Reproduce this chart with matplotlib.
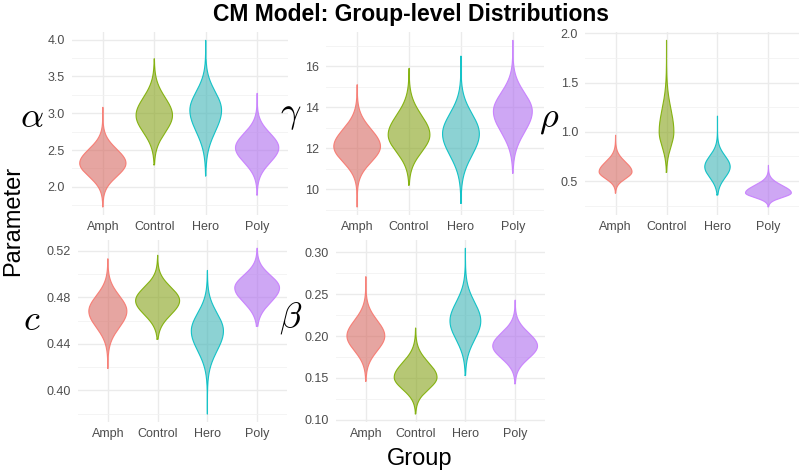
import numpy as np
import matplotlib
matplotlib.use("Agg")
import matplotlib.pyplot as plt
from matplotlib import ticker

plt.rcParams['font.family'] = ['Liberation Sans', 'DejaVu Sans']
plt.rcParams['mathtext.fontset'] = 'cm'

groups = ["Amph", "Control", "Hero", "Poly"]
colors = ["#F8766D", "#7CAE00", "#00BFC4", "#C77CFF"]
fill_colors = ["#D66A62", "#86A31A", "#3FB4B6", "#AE6DEE"]

# per-violin summaries: mode, lower spread, upper spread, min, max
alpha_mode = [2.32, 2.97, 3.04, 2.53]
alpha_sdlo = [0.18, 0.23, 0.29, 0.20]
alpha_sdhi = [0.19, 0.24, 0.25, 0.195]
alpha_min = [1.73, 2.30, 2.15, 1.89]
alpha_max = [3.08, 3.74, 3.99, 3.27]

gamma_mode = [12.08, 12.65, 12.7, 13.8]
gamma_sdlo = [0.76, 0.84, 1.05, 1.02]
gamma_sdhi = [0.84, 0.95, 0.98, 0.90]
gamma_min = [9.14, 10.2, 9.3, 10.78]
gamma_max = [15.1, 15.9, 16.5, 17.27]

rho_mode = [0.594, 1.0, 0.645, 0.38]
rho_sdlo = [0.07, 0.15, 0.11, 0.047]
rho_sdhi = [0.10, 0.23, 0.11, 0.075]
rho_min = [0.38, 0.59, 0.36, 0.24]
rho_max = [0.966, 1.93, 1.16, 0.66]

c_mode = [0.468, 0.477, 0.451, 0.488]
c_sdlo = [0.014, 0.012, 0.017, 0.0125]
c_sdhi = [0.0133, 0.0116, 0.0153, 0.0107]
c_min = [0.419, 0.444, 0.380, 0.455]
c_max = [0.513, 0.516, 0.503, 0.522]

beta_mode = [0.200, 0.1505, 0.218, 0.188]
beta_sdlo = [0.0177, 0.0144, 0.0223, 0.0149]
beta_sdhi = [0.0186, 0.0177, 0.0223, 0.0158]
beta_min = [0.146, 0.107, 0.153, 0.143]
beta_max = [0.271, 0.2095, 0.305, 0.243]

W, H = 800, 474
fig = plt.figure(figsize=(W / 100, H / 100), dpi=100)
fig.patch.set_facecolor("white")


def ax_at(l, r, t, b):
    return fig.add_axes([l / W, 1 - b / H, (r - l) / W, (b - t) / H])


def draw_panel(ax, mode, sdlo, sdhi, vmin, vmax, major, minor, fmt, label, label_xy):
    dens = []
    ys = []
    for i in range(4):
        y = np.linspace(vmin[i], vmax[i], 400)
        s = np.where(y < mode[i], sdlo[i], sdhi[i])
        d = np.exp(-0.5 * ((y - mode[i]) / s) ** 2)
        d = d / (np.sqrt(np.pi / 2) * (sdlo[i] + sdhi[i]))
        dens.append(d)
        ys.append(y)
    dmax = max(d.max() for d in dens)
    for i in range(4):
        hw = 0.45 * dens[i] / dmax
        x = i + 1
        ax.fill_betweenx(ys[i], x - hw, x + hw, facecolor=fill_colors[i], alpha=0.6,
                         edgecolor="none", zorder=3)
        ax.plot(np.concatenate([x - hw, (x + hw)[::-1], [x - hw[0]]]),
                np.concatenate([ys[i], ys[i][::-1], [ys[i][0]]]),
                color=colors[i], lw=0.8, alpha=0.9, zorder=4)
    lo, hi = min(vmin), max(vmax)
    r = hi - lo
    ax.set_ylim(lo - 0.05 * r, hi + 0.05 * r)
    ax.set_xlim(0.4, 4.6)
    ax.set_xticks(range(1, 5))
    ax.set_xticklabels(groups)
    ax.set_yticks(major)
    ax.set_yticks(minor, minor=True)
    ax.yaxis.set_major_formatter(ticker.FormatStrFormatter(fmt))
    ax.grid(True, which="major", color="#EBEBEB", lw=1.0, zorder=0)
    ax.grid(True, which="minor", axis="y", color="#F2F2F2", lw=0.6, zorder=0)
    ax.set_axisbelow(True)
    for sp in ax.spines.values():
        sp.set_visible(False)
    ax.tick_params(axis="both", which="both", length=0, colors="#4D4D4D", labelsize=9)
    ax.tick_params(axis="x", pad=4)
    ax.tick_params(axis="y", pad=5)
    for t in ax.get_xticklabels() + ax.get_yticklabels():
        t.set_color("#4D4D4D")
    fig.text(label_xy[0] / W, 1 - label_xy[1] / H, label, fontsize=26,
             ha="center", va="center", color="black")


ax1 = ax_at(72, 288, 32, 215)
draw_panel(ax1, alpha_mode, alpha_sdlo, alpha_sdhi, alpha_min, alpha_max,
           [2.0, 2.5, 3.0, 3.5, 4.0], [1.75, 2.25, 2.75, 3.25, 3.75], "%.1f",
           r"$\alpha$", (32, 118))

ax2 = ax_at(326, 544, 32, 215)
draw_panel(ax2, gamma_mode, gamma_sdlo, gamma_sdhi, gamma_min, gamma_max,
           [10, 12, 14, 16], [9, 11, 13, 15, 17], "%d",
           r"$\gamma$", (291, 114))

ax3 = ax_at(585, 799, 32, 215)
draw_panel(ax3, rho_mode, rho_sdlo, rho_sdhi, rho_min, rho_max,
           [0.5, 1.0, 1.5, 2.0], [0.25, 0.75, 1.25, 1.75], "%.1f",
           r"$\rho$", (549, 118))

ax4 = ax_at(78, 287, 240, 422)
draw_panel(ax4, c_mode, c_sdlo, c_sdhi, c_min, c_max,
           [0.40, 0.44, 0.48, 0.52], [0.38, 0.42, 0.46, 0.50], "%.2f",
           r"$c$", (32, 320))

ax5 = ax_at(336, 545, 240, 422)
draw_panel(ax5, beta_mode, beta_sdlo, beta_sdhi, beta_min, beta_max,
           [0.10, 0.15, 0.20, 0.25, 0.30], [0.125, 0.175, 0.225, 0.275], "%.2f",
           r"$\beta$", (291, 318))

fig.text(411 / W, 1 - 14 / H, "CM Model: Group-level Distributions", fontsize=16.5,
         fontweight="bold", ha="center", va="center", color="black")
fig.text(13 / W, 1 - 221 / H, "Parameter", fontsize=17, rotation=90,
         ha="center", va="center", color="black")
fig.text(420 / W, 1 - 459 / H, "Group", fontsize=17, ha="center", va="center",
         color="black")

fig.savefig("out.png", dpi=100, facecolor="white")
